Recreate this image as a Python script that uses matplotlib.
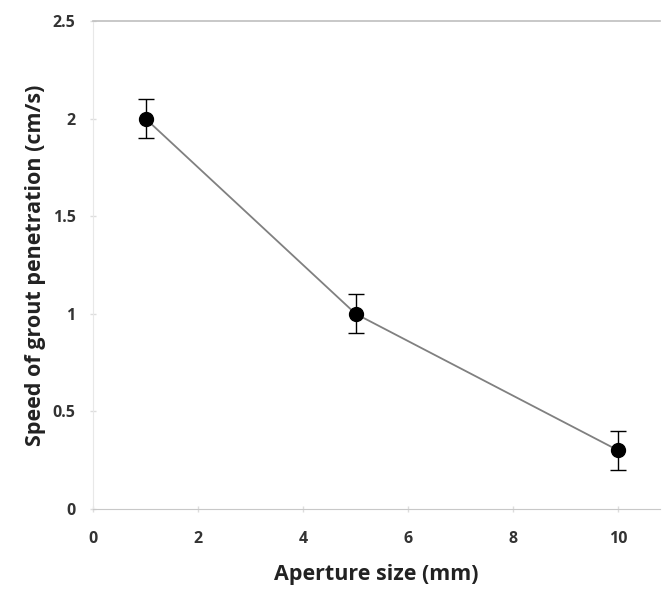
import matplotlib.pyplot as plt

# Dados
abertura = [1, 5, 10]
velocidade = [2.0, 1.0, 0.3]
erro = [0.1, 0.1, 0.1]

x_ticks = [0, 2, 4, 6, 8, 10]
y_ticks = [0, 0.5, 1, 1.5, 2, 2.5]
y_tick_labels = ["0", "0.5", "1", "1.5", "2", "2.5"]

plt.rcParams['font.family'] = ['Open Sans', 'DejaVu Sans']

fig = plt.figure(figsize=(6.62, 5.89), dpi=100)
ax = fig.add_axes([0.1405, 0.1358, 0.857, 0.8285])

ax.plot(abertura, velocidade, color='#808080', linewidth=1.3, zorder=2)
ax.errorbar(abertura, velocidade, yerr=erro, fmt='o', color='black',
            markersize=10, capsize=6, elinewidth=1.0, capthick=1.0, zorder=3)

ax.set_xlim(0, 10.8)
ax.set_ylim(0, 2.5)
ax.set_xticks(x_ticks)
ax.set_yticks(y_ticks)
ax.set_yticklabels(y_tick_labels)

for lbl in ax.get_xticklabels() + ax.get_yticklabels():
    lbl.set_fontweight('bold')
    lbl.set_fontsize(11.5)
    lbl.set_color('#333333')

ax.tick_params(axis='both', direction='inout', length=5, color='#dddddd', width=1)
ax.tick_params(axis='x', pad=13)
ax.tick_params(axis='y', pad=10)

ax.spines['right'].set_visible(False)
ax.spines['left'].set_color('#e8e8e8')
ax.spines['bottom'].set_color('#c8c8c8')
ax.spines['top'].set_color('#bfbfbf')
ax.spines['top'].set_linewidth(1.2)

ax.set_xlabel("Aperture size (mm)", fontsize=15.5, fontweight='bold', color='#222222')
ax.set_ylabel("Speed of grout penetration (cm/s)", fontsize=15.5, fontweight='bold',
              color='#222222')
ax.xaxis.set_label_coords(0.5, -0.112)
ax.yaxis.set_label_coords(-0.082, 0.5)

plt.savefig("out.png", dpi=100)
